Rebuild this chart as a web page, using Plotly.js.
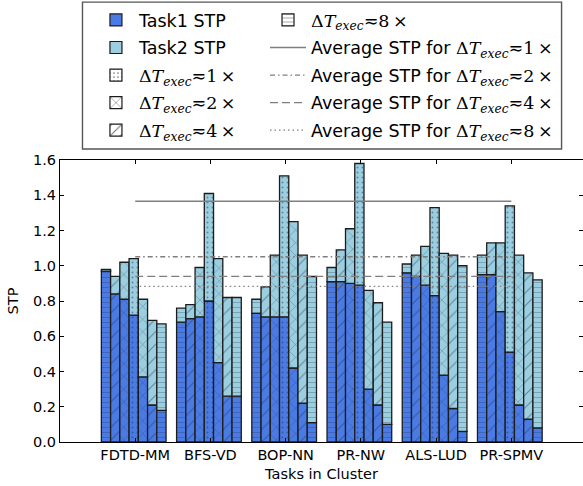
<!DOCTYPE html>
<html><head><meta charset="utf-8">
<script src="https://cdn.plot.ly/plotly-3.0.1.min.js"></script>
<style>body{margin:0;padding:0;background:#fff}#chart{width:583px;height:486px;}</style>
</head><body><div id="chart"></div>
<script>
// ---- data ----
const categories = ['FDTD-MM', 'BFS-VD', 'BOP-NN', 'PR-NW', 'ALS-LUD', 'PR-SPMV'];
// execution-time ratio represented by each of the 7 bars in a cluster
const slotRatios = ['8', '4', '2', '1', '2', '4', '8'];
const task1STP = [
  [0.97, 0.84, 0.81, 0.72, 0.37, 0.21, 0.18],
  [0.68, 0.70, 0.71, 0.80, 0.45, 0.26, 0.26],
  [0.73, 0.71, 0.71, 0.71, 0.42, 0.22, 0.11],
  [0.91, 0.91, 0.90, 0.89, 0.30, 0.21, 0.10],
  [0.96, 0.94, 0.89, 0.83, 0.38, 0.19, 0.06],
  [0.95, 0.95, 0.74, 0.51, 0.21, 0.13, 0.08]
];
const task2STP = [
  [0.01, 0.10, 0.21, 0.32, 0.44, 0.48, 0.49],
  [0.08, 0.08, 0.28, 0.61, 0.59, 0.56, 0.56],
  [0.08, 0.17, 0.35, 0.80, 0.83, 0.84, 0.83],
  [0.08, 0.18, 0.31, 0.69, 0.56, 0.58, 0.58],
  [0.05, 0.12, 0.22, 0.50, 0.69, 0.87, 0.94],
  [0.11, 0.18, 0.39, 0.83, 0.85, 0.83, 0.84]
];
const avgRatios = ['1', '2', '4', '8'];
const avgSTP = [1.366, 1.051, 0.940, 0.883];

// ---- styles ----
const T1 = '#4a7be4', T2 = '#9bcfe0';
const patShape = {'1': '.', '2': 'x', '4': '/', '8': '-'};
const patSize = {'1': 5, '2': 9, '4': 9, '8': 5};
const avgDash = {'1': 'solid', '2': '5px,3px,1.5px,3px', '4': '8px,4px', '8': '1.5px,3px'};
const nSlots = 7, groupWidth = 0.86, barW = groupWidth / nSlots, groupShift = -0.02;
const edge = {color: '#1c1c1c', width: 1.3};

function mathLabel(r) {
  return "<span style='font-family:DejaVu Serif'>Δ<i>T</i><sub><i>exec</i></sub>≂" + r + "\u2009×</span>";
}

const xs = [], t1 = [], t2 = [], shp = [], siz = [];
categories.forEach((c, i) => {
  for (let j = 0; j < nSlots; j++) {
    xs.push(i + groupShift + (j - (nSlots - 1) / 2) * barW);
    t1.push(task1STP[i][j]);
    t2.push(task2STP[i][j]);
    shp.push(patShape[slotRatios[j]]);
    siz.push(patSize[slotRatios[j]]);
  }
});

function barPattern(bg) {
  return {shape: shp, size: siz, fillmode: 'overlay', bgcolor: bg, fgcolor: '#1e2a50', fgopacity: 0.45, solidity: 0.12};
}
const traces = [];
traces.push({type: 'bar', x: xs, y: t1, width: barW, showlegend: false, hoverinfo: 'skip',
  marker: {color: T1, line: edge, pattern: barPattern(T1)}});
traces.push({type: 'bar', x: xs, y: t2, base: t1, width: barW, showlegend: false, hoverinfo: 'skip',
  marker: {color: T2, line: edge, pattern: barPattern(T2)}});

// average lines
avgRatios.forEach((r, k) => {
  traces.push({type: 'scatter', mode: 'lines', x: [0, categories.length - 1], y: [avgSTP[k], avgSTP[k]],
    line: {color: '#7f7f7f', width: 1.3, dash: avgDash[r]}, hoverinfo: 'skip', showlegend: false});
});

// legend entries
function legBar(name, color, shape, size, legend, grp) {
  return {type: 'bar', x: [null], y: [null], name: name, legend: legend, legendgroup: grp,
    marker: {color: color, line: {color: '#1c1c1c', width: 1.2},
      pattern: shape ? {shape: shape, size: size, fillmode: 'overlay', bgcolor: '#fff', fgcolor: '#333', fgopacity: 0.7, solidity: 0.15} : {shape: ''}}};
}
traces.push(legBar('Task1 STP', T1, '', 0, 'legend', 'a1'));
traces.push(legBar('Task2 STP', T2, '', 0, 'legend', 'a2'));
['1', '2', '4'].forEach((r, k) => traces.push(legBar(mathLabel(r), '#fff', patShape[r], patSize[r], 'legend', 'a' + (k + 3))));
traces.push(legBar(mathLabel('8'), '#fff', patShape['8'], patSize['8'], 'legend2', 'b1'));
avgRatios.forEach((r, k) => {
  traces.push({type: 'scatter', mode: 'lines', x: [null], y: [null], name: 'Average STP for ' + mathLabel(r),
    legend: 'legend2', legendgroup: 'b' + (k + 2), line: {color: '#7f7f7f', width: 1.3, dash: avgDash[r]}});
});

const axFont = {family: 'DejaVu Sans', size: 14.5, color: '#000'};
const legCommon = {xanchor: 'left', yanchor: 'top', y: 1.56, bgcolor: 'rgba(0,0,0,0)', borderwidth: 0,
  font: {family: 'DejaVu Sans', size: 17.5, color: '#000'}, traceorder: 'grouped', tracegroupgap: 1.8, itemwidth: 36};

const layout = {
  width: 583, height: 486,
  margin: {l: 60, r: 0, t: 160, b: 44, pad: 0},
  paper_bgcolor: '#fff', plot_bgcolor: '#fff',
  barmode: 'overlay', bargap: 0,
  showlegend: true,
  xaxis: {range: [-1.0, 5.953], tickvals: categories.map((c, i) => i), ticktext: categories,
    ticks: 'inside', ticklen: 4, tickcolor: '#000', mirror: 'ticks', showline: true, linecolor: '#000', linewidth: 1,
    showgrid: false, zeroline: false, tickfont: axFont,
    title: {text: 'Tasks in Cluster', font: axFont, standoff: 6}},
  yaxis: {range: [0, 1.6], dtick: 0.2, tickformat: '.1f',
    ticks: 'inside', ticklen: 4, tickcolor: '#000', mirror: 'ticks', showline: true, linecolor: '#000', linewidth: 1,
    showgrid: false, zeroline: false, tickfont: axFont,
    title: {text: 'STP', font: axFont, standoff: 10}},
  legend: Object.assign({}, legCommon, {x: 0.063}),
  legend2: Object.assign({}, legCommon, {x: 0.392}),
  shapes: [{type: 'rect', xref: 'paper', yref: 'paper', x0: 0.043, x1: 0.959, y0: 1.039, y1: 1.56,
    line: {color: '#555', width: 1.4}, fillcolor: 'rgba(0,0,0,0)'}]
};

Plotly.newPlot('chart', traces, layout, {displayModeBar: false, staticPlot: true});
</script>
</body></html>
